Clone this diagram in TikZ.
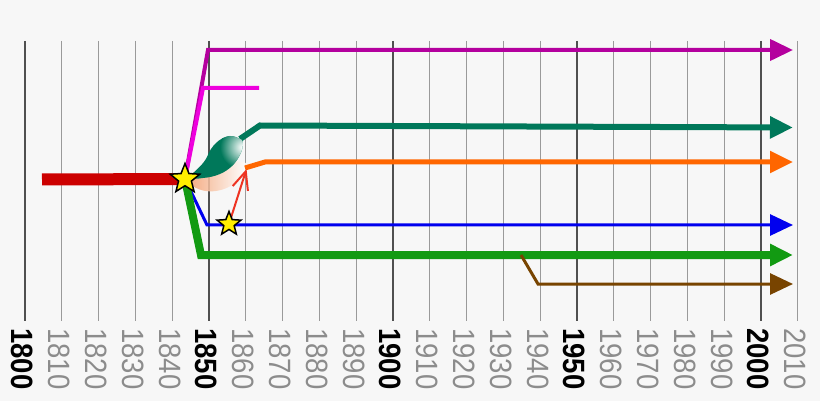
\documentclass[tikz,border=0pt]{standalone}
\usepackage{fontspec}
\setmainfont{Liberation Sans}
\usetikzlibrary{arrows.meta,shapes.geometric}
\definecolor{bg}{HTML}{F7F7F7}
\definecolor{minorc}{HTML}{9A9A9A}
\definecolor{majorc}{HTML}{505050}
\definecolor{minorlab}{HTML}{8C8C8C}
\definecolor{redbar}{HTML}{CC0000}
\definecolor{magdark}{HTML}{B4009E}
\definecolor{magbright}{HTML}{EE00DD}
\definecolor{tealc}{HTML}{00785A}
\definecolor{orangec}{HTML}{FF6600}
\definecolor{bluec}{HTML}{0000EE}
\definecolor{greenc}{HTML}{129A12}
\definecolor{brownc}{HTML}{784400}
\definecolor{redarrow}{HTML}{EE3322}
\definecolor{peach}{HTML}{F4A070}
\definecolor{stary}{HTML}{FFEE00}
\begin{document}
\begin{tikzpicture}[x=1pt,y=-1pt,
  minorgrid/.style={draw=minorc, line width=1.3pt},
  majorgrid/.style={draw=majorc, line width=1.5pt},
  yearlab/.style={rotate=-90, yscale=1.12, anchor=west, inner sep=0pt,
    font=\fontsize{27.5}{30}\selectfont},
  majorlab/.style={yearlab, text=black, font=\fontsize{27.5}{30}\selectfont\bfseries},
  minorlab/.style={yearlab, text=minorlab},
  tipbig/.style={-{Triangle[length=23pt,width=21pt]}},
  starnode/.style={star, star points=5, star point ratio=2.3, draw=black, fill=stary,
    line width=1.5pt, inner sep=0pt},
  series/.style={line join=miter}
]
\fill[bg] (0,0) rectangle (820,401);
\useasboundingbox (0,0) rectangle (820,401);

% grid and labels
\foreach \yr in {1810,1820,1830,1840,1860,1870,1880,1890,1910,1920,1930,1940,1960,1970,1980,1990,2010}{
  \pgfmathsetmacro\xx{25+(\yr-1800)*3.68}
  \draw[minorgrid] (\xx,41) -- (\xx,321);
  \node[minorlab] (lab\yr) at (\xx-2.5,328) {\yr};
}
\foreach \yr in {1800,1850,1900,1950,2000}{
  \pgfmathsetmacro\xx{25+(\yr-1800)*3.68}
  \draw[majorgrid] (\xx,41) -- (\xx,321);
  \node[majorlab] (lab\yr) at (\xx-2.5,328) {\yr};
}

% coordinates
\coordinate (o) at (185,179);
\coordinate (redstart) at (42,179.5);
\coordinate (m1) at (208,50);
\coordinate (mtip) at (793,50);
\coordinate (b1) at (203,88);
\coordinate (b2) at (259,88);
\coordinate (t0) at (240,139);
\coordinate (t1) at (260,125.5);
\coordinate (ttip) at (793,127.5);
\coordinate (or0) at (245,168);
\coordinate (or1) at (265,162);
\coordinate (ortip) at (793,162);
\coordinate (bl1) at (207,225);
\coordinate (bltip) at (793,225);
\coordinate (g1) at (201,255);
\coordinate (gtip) at (793,255);
\coordinate (br0) at (521,255);
\coordinate (br1) at (538,284);
\coordinate (brtip) at (793,284);
\coordinate (rtip) at (246.5,169);
\coordinate (s2) at (229,224);

% red bar
\draw[redbar, line width=12pt] (redstart) -- (o);

% peach band
\shade[left color=peach, right color=white, opacity=0.85]
  (189,178) .. controls (200,162) and (222,157) .. (246,163) -- (246,172)
  .. controls (232,192) and (205,198) .. (189,183) -- cycle;

% series lines
\draw[series, magdark, line width=4pt, tipbig] (o) -- (m1) -- (mtip);
\draw[series, magbright, line width=4pt] (o) -- (b1) -- (b2);
\draw[series, tealc, line width=6pt, tipbig] (t0) -- (t1) -- (ttip);
\draw[series, orangec, line width=5pt, tipbig] (or0) -- (or1) -- (ortip);
\draw[series, bluec, line width=3pt, tipbig] (o) -- (bl1) -- (bltip);
\draw[series, greenc, line width=8pt, tipbig] (o) -- (g1) -- (gtip);
\draw[series, brownc, line width=3pt, tipbig] (br0) -- (br1) -- (brtip);

% teal blob
\begin{scope}
\clip (189,177) .. controls (196,170) and (203,165) .. (207,157)
  .. controls (211,146) and (220,137) .. (230,136)
  .. controls (235,136) and (238,138) .. (242,140)
  .. controls (245,146) and (240,158) .. (232,166)
  .. controls (225,173) and (215,177) .. (203,178)
  .. controls (197,179) and (192,179) .. (189,177) -- cycle;
\fill[tealc] (185,130) rectangle (250,185);
\shade[inner color=white, outer color=tealc] (242,147) circle (22pt);
\end{scope}

% red arrow
\draw[redarrow, line width=2pt, -{Straight Barb[length=18pt,width=16pt]}] (s2) -- (rtip);

% stars
\node[starnode, minimum size=31pt] (bigstar) at (o) {};
\node[starnode, minimum size=25pt] (smallstar) at (s2) {};
\end{tikzpicture}
\end{document}
